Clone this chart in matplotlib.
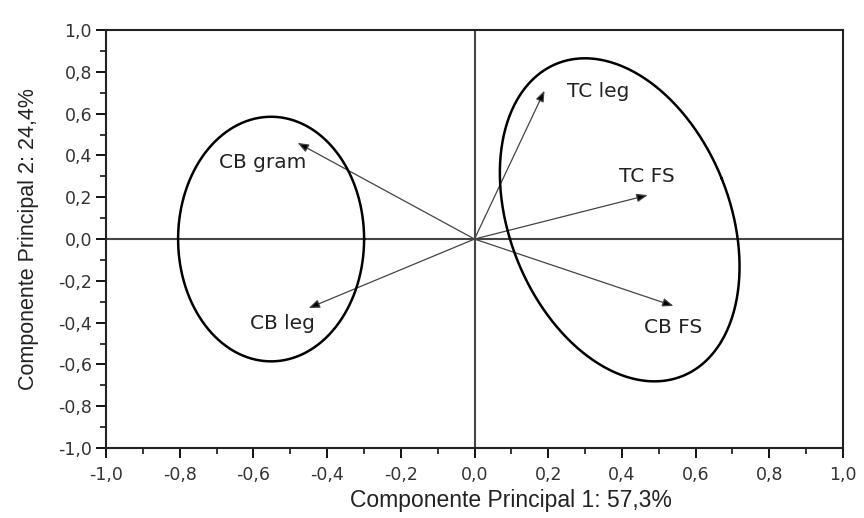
import numpy as np
import matplotlib
matplotlib.use("Agg")
import matplotlib.pyplot as plt
from matplotlib.ticker import MultipleLocator, FuncFormatter

plt.rcParams['font.family'] = ['Liberation Sans', 'DejaVu Sans']

# Loadings (PC1, PC2)
variables = ["TC leg", "TC FS", "CB FS", "CB gram", "CB leg"]
pc1 = [0.19, 0.47, 0.54, -0.48, -0.45]
pc2 = [0.71, 0.21, -0.32, 0.46, -0.33]
# label positions (centre of text)
label_x = [0.335, 0.468, 0.538, -0.575, -0.522]
label_y = [0.705, 0.30, -0.425, 0.365, -0.405]

xlabel = "Componente Principal 1: 57,3%"
ylabel = "Componente Principal 2: 24,4%"

fig = plt.figure(figsize=(8.64, 5.18), dpi=100)
ax = fig.add_axes([0.1227, 0.135, 0.853, 0.807])
ax.set_xlim(-1.0, 1.0)
ax.set_ylim(-1.0, 1.0)

ax.axhline(0, color='#444444', lw=1.5, zorder=1)
ax.axvline(0, color='#444444', lw=1.5, zorder=1)

for x, y in zip(pc1, pc2):
    ax.annotate("", xy=(x, y), xytext=(0, 0),
                arrowprops=dict(arrowstyle="-|>,head_length=0.65,head_width=0.25",
                                color='#808080', lw=0.9, shrinkA=0, shrinkB=0,
                                fc='black', ec='#444444'))
for name, lx, ly in zip(variables, label_x, label_y):
    ax.text(lx, ly, name, ha='center', va='center', fontsize=14.5,
            color='#222222', family='DejaVu Sans')

# Ellipses drawn in pixel-isotropic space, converted to data units
sx, sy = 368.5, 208.5  # pixels per data unit
def ellipse(cx, cy, a, b, tilt_deg):
    t = np.linspace(0, 2 * np.pi, 400)
    th = np.deg2rad(tilt_deg)
    u = b * np.cos(t)
    v = a * np.sin(t)
    px = u * np.cos(th) + v * np.sin(th)
    py = -u * np.sin(th) + v * np.cos(th)
    ax.plot(cx + px / sx, cy + py / sy, color='black', lw=1.8, zorder=3)

ellipse(-0.552, 0.0, 122, 93, 0)
ellipse(0.394, 0.092, 168, 110, -22)

ax.xaxis.set_major_locator(MultipleLocator(0.2))
ax.xaxis.set_minor_locator(MultipleLocator(0.1))
ax.yaxis.set_major_locator(MultipleLocator(0.2))
ax.yaxis.set_minor_locator(MultipleLocator(0.1))
fmt = FuncFormatter(lambda v, p: ("%.1f" % (0.0 if abs(v) < 1e-9 else v)).replace('.', ','))
ax.xaxis.set_major_formatter(fmt)
ax.yaxis.set_major_formatter(fmt)
ax.tick_params(which='major', direction='out', length=7, width=1.3, labelsize=12.5,
               labelcolor='#333333')
ax.tick_params(axis='x', which='major', pad=6)
ax.tick_params(axis='y', which='major', pad=3)
ax.tick_params(which='minor', direction='out', length=4, width=1.1)
for lab in ax.get_xticklabels() + ax.get_yticklabels():
    lab.set_family('DejaVu Sans')
for s in ax.spines.values():
    s.set_linewidth(1.5)
    s.set_color('#222222')

ax.set_xlabel(xlabel, fontsize=16.5, color='#222222')
ax.xaxis.set_label_coords(0.55, -0.125)
ax.xaxis.label.set_va('center')
ax.set_ylabel(ylabel, fontsize=15.5, color='#222222', labelpad=14)

fig.savefig("out.png", dpi=100)
